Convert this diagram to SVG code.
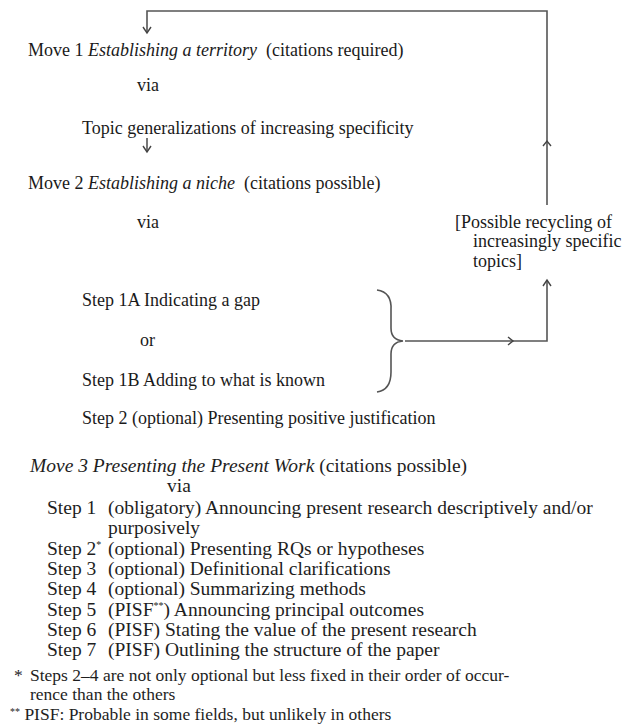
<svg xmlns="http://www.w3.org/2000/svg" width="638" height="724" viewBox="0 0 638 724">
<style>
.t{font-family:"Liberation Serif","Times New Roman",serif;font-size:18px;fill:#1a1a1a}
.b{font-family:"Liberation Serif","Times New Roman",serif;font-size:19.5px;fill:#1e1e1e}
.f{font-family:"Liberation Serif","Times New Roman",serif;font-size:17.5px;fill:#1e1e1e}
.i{font-style:italic}
.ln{fill:none;stroke:#555;stroke-width:1.6}
.ch{fill:none;stroke:#444;stroke-width:1.4}
</style>
<rect width="638" height="724" fill="#fff"/>
<g id="connectors">
<path class="ln" d="M147,33 V11 H547 V205"/>
<path class="ch" d="M143,27 L147,33 L151,27"/>
<path class="ch" d="M543,146 L547,141 L551,146"/>
<path class="ln" d="M147,138 V152"/>
<path class="ch" d="M143,146 L147,152 L151,146"/>
<path class="ln" d="M405,341 H547 V280"/>
<path class="ch" d="M508,337 L513,341 L508,345"/>
<path class="ch" d="M543,286 L547,280 L551,286"/>
<path class="ln" d="M377,290 Q392,292 391,310 V328 Q391,340 403,341 Q391,342 391,354 V372 Q391,390 377,392"/>
</g>
<g id="move1">
<text class="t" x="28" y="56">Move 1 <tspan class="i">Establishing a territory</tspan>&#160; (citations required)</text>
<text class="t" x="137" y="91">via</text>
<text class="t" x="82" y="134">Topic generalizations of increasing specificity</text>
</g>
<g id="move2">
<text class="t" x="28" y="189">Move 2 <tspan class="i">Establishing a niche</tspan>&#160; (citations possible)</text>
<text class="t" x="137" y="228">via</text>
</g>
<g id="recycle">
<text class="t" x="455" y="228">[Possible recycling of</text>
<text class="t" x="473" y="247">increasingly specific</text>
<text class="t" x="473" y="267">topics]</text>
</g>
<g id="steps2">
<text class="t" x="82" y="306">Step 1A Indicating a gap</text>
<text class="t" x="140" y="346">or</text>
<text class="t" x="82" y="386">Step 1B Adding to what is known</text>
<text class="t" x="82" y="424">Step 2 (optional) Presenting positive justification</text>
</g>
<g id="move3">
<text class="b" x="30" y="472"><tspan class="i">Move 3 Presenting the Present Work</tspan> (citations possible)</text>
<text class="b" x="167" y="492">via</text>
<text class="b" x="47" y="514">Step 1</text><text class="b" x="108" y="514">(obligatory) Announcing present research descriptively and/or</text>
<text class="b" x="108" y="534">purposively</text>
<text class="b" x="47" y="555">Step 2<tspan font-size="10" dy="-7">*</tspan></text><text class="b" x="108" y="555">(optional) Presenting RQs or hypotheses</text>
<text class="b" x="47" y="575">Step 3</text><text class="b" x="108" y="575">(optional) Definitional clarifications</text>
<text class="b" x="47" y="595">Step 4</text><text class="b" x="108" y="595">(optional) Summarizing methods</text>
<text class="b" x="47" y="616">Step 5</text><text class="b" x="108" y="616">(PISF<tspan font-size="10" dy="-7">**</tspan><tspan dy="7">) Announcing principal outcomes</tspan></text>
<text class="b" x="47" y="636">Step 6</text><text class="b" x="108" y="636">(PISF) Stating the value of the present research</text>
<text class="b" x="47" y="656">Step 7</text><text class="b" x="108" y="656">(PISF) Outlining the structure of the paper</text>
</g>
<g id="footnotes">
<text class="f" x="14" y="681" font-size="10">*</text><text class="f" x="30" y="681">Steps 2–4 are not only optional but less fixed in their order of occur-</text>
<text class="f" x="30" y="700">rence than the others</text>
<text class="f" x="10" y="720"><tspan font-size="10" dy="-5">**</tspan><tspan dy="5"> PISF: Probable in some fields, but unlikely in others</tspan></text>
</g>
</svg>
